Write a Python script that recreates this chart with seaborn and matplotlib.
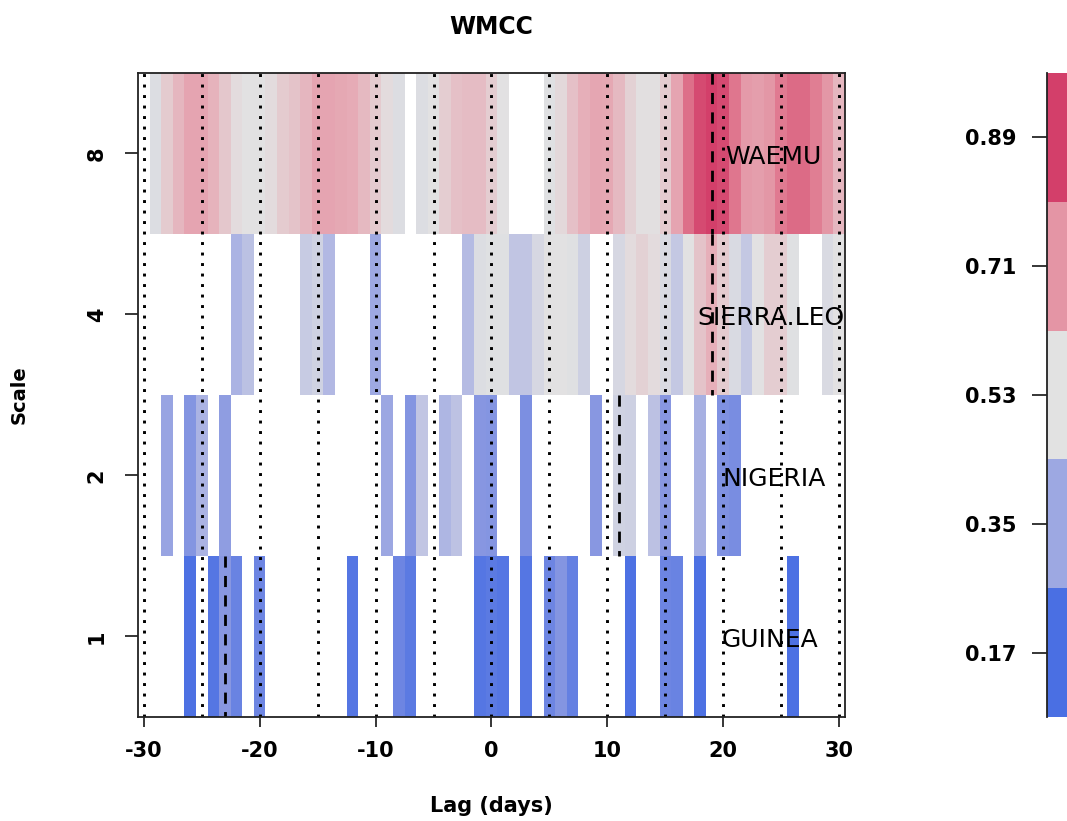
import numpy as np
import pandas as pd
import matplotlib
matplotlib.use("Agg")
import matplotlib.pyplot as plt
from matplotlib.colors import LinearSegmentedColormap, ListedColormap
import seaborn as sns

nan = np.nan

# ---------------- data ----------------
lags = list(range(-30, 31))
scale_labels = ["8", "4", "2", "1"]
series_names = ["WAEMU", "SIERRA.LEONE", "NIGERIA", "GUINEA"]

scale8 = [nan, 0.51, 0.60, 0.66, 0.71, 0.71, 0.67, 0.61, 0.55, 0.53,
          0.53, 0.55, 0.60, 0.62, 0.66, 0.71, 0.71, 0.70, 0.69, 0.65,
          0.60, 0.55, 0.51, nan, 0.51, 0.53, 0.59, 0.63, 0.64, 0.64,
          0.59, 0.53, nan, nan, nan, 0.52, 0.56, 0.63, 0.68, 0.705,
          0.70, 0.65, 0.58, 0.54, 0.54, 0.60, 0.71, 0.86, 0.95, 0.98,
          0.95, 0.84, 0.74, 0.73, 0.75, 0.83, 0.87, 0.87, 0.82, 0.75,
          0.66]
scale4 = [nan, nan, nan, nan, nan, nan, nan, nan, 0.35, 0.40,
          nan, nan, nan, nan, 0.44, 0.47, 0.37, nan, nan, nan,
          0.31, nan, nan, nan, nan, nan, nan, nan, 0.38, 0.51,
          0.52, 0.52, 0.42, 0.42, 0.49, 0.53, 0.53, 0.52, 0.46, nan,
          nan, 0.49, 0.55, 0.58, 0.55, 0.50, 0.43, 0.53, 0.62, 0.68,
          0.60, 0.50, 0.43, 0.53, 0.59, 0.59, 0.52, nan, nan, 0.50,
          0.53]
scale2 = [nan, nan, 0.29, nan, 0.23, 0.35, nan, 0.26, nan, nan,
          nan, nan, nan, nan, nan, nan, nan, nan, nan, nan,
          nan, 0.305, nan, 0.23, 0.42, nan, 0.36, 0.41, nan, 0.235,
          0.23, nan, nan, 0.21, nan, nan, nan, nan, nan, 0.24,
          nan, 0.47, 0.46, nan, 0.405, 0.24, nan, nan, 0.34, nan,
          0.215, 0.20, nan, nan, nan, nan, nan, nan, nan, nan,
          nan]
scale1 = [nan, nan, nan, nan, 0.09, nan, 0.11, 0.24, 0.16, nan,
          0.17, nan, nan, nan, nan, nan, nan, nan, 0.11, nan,
          nan, nan, 0.17, 0.125, nan, nan, nan, nan, nan, 0.11,
          0.125, 0.11, nan, 0.11, nan, 0.17, 0.23, 0.15, nan, nan,
          nan, nan, 0.09, nan, nan, 0.17, 0.16, nan, 0.09, nan,
          nan, nan, nan, nan, nan, nan, 0.09, nan, nan, nan,
          nan]

xtick_lags = [-30, -20, -10, 0, 10, 20, 30]
grid_lags = list(range(-30, 31, 5))
cb_values = [0.17, 0.35, 0.53, 0.71, 0.89]
cb_labels = ["0.17", "0.35", "0.53", "0.71", "0.89"]

# ---------------- style ----------------
sns.set_style("white")
plt.rcParams["font.family"] = ["DejaVu Sans"]
plt.rcParams["text.color"] = "black"
plt.rcParams["axes.labelcolor"] = "black"

hcl7 = ["#4A6FE3", "#8595E1", "#B5BBE3", "#E2E2E2", "#E6AFB9", "#E07B91", "#D33F6A"]
cb_colors = ["#4A6FE3", "#9DA8E2", "#E2E2E2", "#E495A5", "#D33F6A"]
cmap = LinearSegmentedColormap.from_list("bluered2", hcl7)
VMIN, VMAX = 0.08, 0.98

fig = plt.figure(figsize=(10.67, 8.21), dpi=100)
fig.patch.set_facecolor("white")
ax = fig.add_axes([0.1293, 0.1267, 0.6626, 0.7844])

data = np.array([scale8, scale4, scale2, scale1], dtype=float)
df = pd.DataFrame(data, index=scale_labels, columns=lags)
sns.heatmap(df, ax=ax, cmap=cmap, vmin=VMIN, vmax=VMAX, cbar=False,
            xticklabels=False, yticklabels=False)

def lagpos(L):
    return lags.index(L) + 0.5

# dotted reference lines
for L in grid_lags:
    ax.axvline(lagpos(L), color="black", lw=2.1, linestyle=(0, (1, 2.6)))

# dashed lines at lag of max correlation for each scale
for i in range(data.shape[0]):
    j = int(np.nanargmax(data[i]))
    x = lagpos(lags[j])
    ax.plot([x, x], [i, i + 1], color="black", lw=2.0, linestyle=(0, (4, 3)))

# series labels (clipped at the plot edge)
label_left = [20.15, 17.75, 19.9, 19.9]
for i, name in enumerate(series_names):
    ax.text(label_left[i] + 30.5, i + 0.52, name, ha="left", va="center",
            fontsize=18, color="black", clip_on=True)

ax.set_xlim(0, len(lags))
ax.set_ylim(len(scale_labels), 0)
ax.set_xticks([lagpos(L) for L in xtick_lags])
ax.set_xticklabels([str(L) for L in xtick_lags], fontsize=15, fontweight="bold")
ax.set_yticks([i + 0.5 for i in range(len(scale_labels))])
ax.set_yticklabels(scale_labels, fontsize=15, fontweight="bold", rotation=90, va="center")
ax.tick_params(axis="x", bottom=True, length=7, width=1.1, pad=10, colors="black")
ax.tick_params(axis="y", left=True, length=9.5, width=1.1, pad=13, colors="black")
for s in ax.spines.values():
    s.set_visible(True)
    s.set_color("#222222")
    s.set_linewidth(1.3)

ax.set_xlabel("Lag (days)", fontsize=15, fontweight="bold", color="black")
ax.xaxis.set_label_coords(0.5, -0.122)
ax.set_ylabel("Scale", fontsize=14, fontweight="bold", color="black")
ax.yaxis.set_label_coords(-0.155, 0.5)
ax.set_title("WMCC", fontsize=17, fontweight="bold", pad=28, color="black")

# colour key
cax = fig.add_axes([0.9813, 0.1267, 0.04, 0.7844])
cb_df = pd.DataFrame(np.array(cb_values[::-1]).reshape(-1, 1))
sns.heatmap(cb_df, ax=cax, cmap=ListedColormap(cb_colors), vmin=VMIN, vmax=VMAX,
            cbar=False, xticklabels=False, yticklabels=False)
cax.set_yticks([i + 0.5 for i in range(len(cb_values))])
cax.set_yticklabels(cb_labels[::-1], fontsize=15, fontweight="bold")
cax.yaxis.tick_left()
cax.tick_params(axis="y", left=True, length=11, width=1.1, pad=11, colors="black")
cax.set_xticks([])
cax.spines["left"].set_visible(True)
cax.spines["left"].set_color("#222222")
cax.spines["left"].set_linewidth(1.3)

fig.savefig("out.png", dpi=100, facecolor="white")
